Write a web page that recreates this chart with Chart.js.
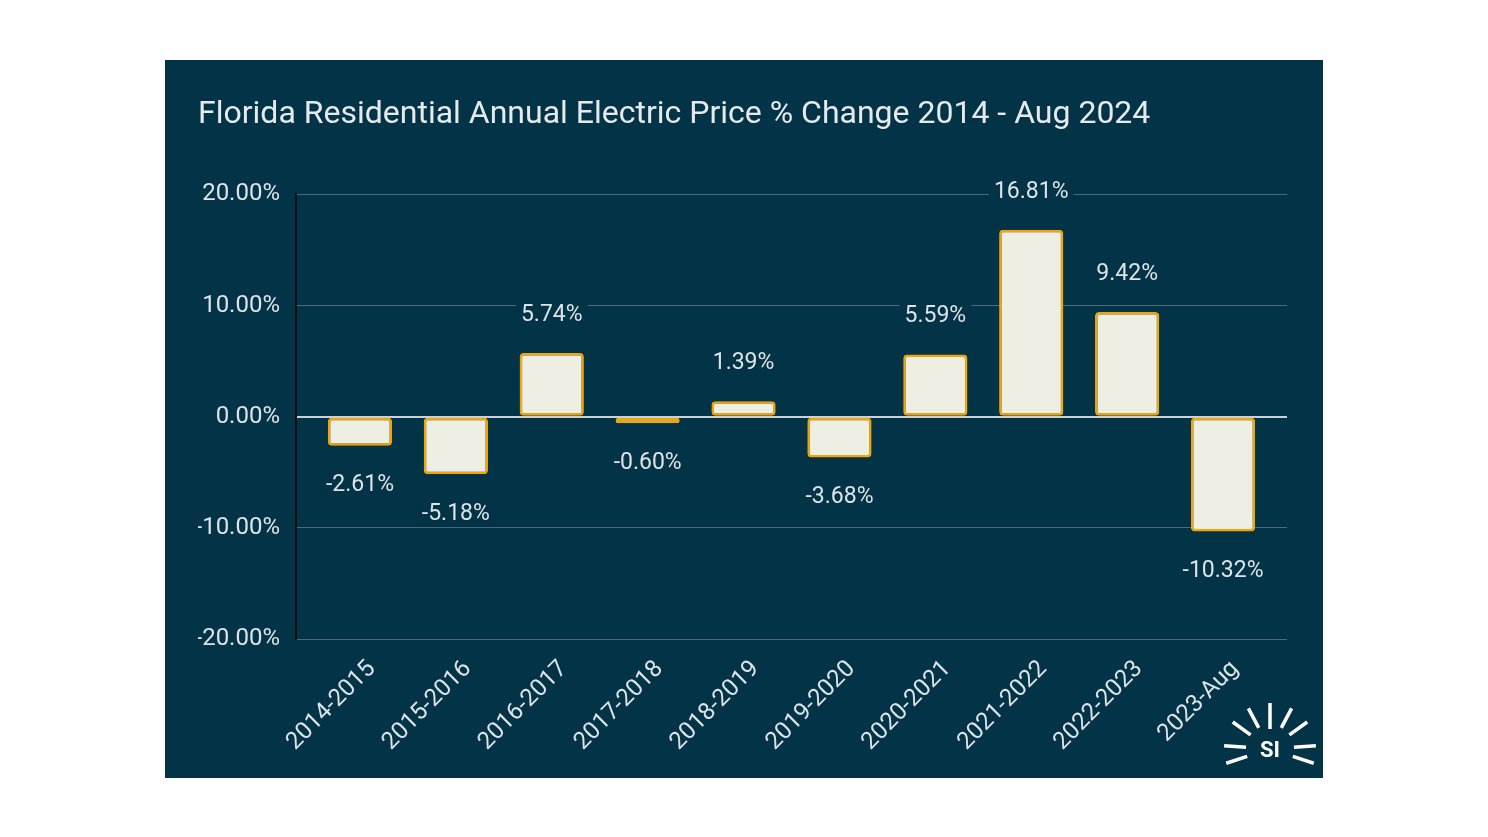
<!DOCTYPE html>
<html>
<head>
<meta charset="utf-8">
<script src="https://cdn.jsdelivr.net/npm/chart.js@4"></script>
<style>
  html, body { margin: 0; padding: 0; background: #ffffff; }
  #panel {
    position: absolute; left: 165px; top: 60px;
    width: 1158px; height: 718px; background: #033347;
  }
</style>
</head>
<body>
<div id="panel"><canvas id="chart"></canvas></div>
<script>
// data
const periods = ['2014-2015', '2015-2016', '2016-2017', '2017-2018', '2018-2019',
                 '2019-2020', '2020-2021', '2021-2022', '2022-2023', '2023-Aug'];
const pctChange = [-2.61, -5.18, 5.74, -0.60, 1.39, -3.68, 5.59, 16.81, 9.42, -10.32];
const yTicks = [-20, -10, 0, 10, 20];

const panelColor = '#033347';
const textColor = '#dde3e6';

// value labels outside the bar ends, with a panel-coloured backdrop
const valueLabels = {
  id: 'valueLabels',
  afterDatasetsDraw(chart) {
    const ctx = chart.ctx;
    const meta = chart.getDatasetMeta(0);
    ctx.save();
    ctx.font = '23px Roboto';
    ctx.textAlign = 'center';
    ctx.textBaseline = 'middle';
    meta.data.forEach((bar, i) => {
      const v = pctChange[i];
      const txt = v.toFixed(2) + '%';
      const y = v >= 0 ? bar.y - 38 : bar.y + 40;
      const w = ctx.measureText(txt).width;
      ctx.fillStyle = panelColor;
      ctx.fillRect(bar.x - w / 2 - 5, y - 12, w + 10, 24);
      ctx.fillStyle = textColor;
      ctx.fillText(txt, bar.x, y);
    });
    ctx.restore();
  }
};

// the category axis sits a little inside the grid on both sides
const insetX = {
  id: 'insetX',
  afterLayout(chart) {
    const x = chart.scales.x;
    x.left += 16;
    x.right -= 16;
    x.width = x.right - x.left;
    x.configure();
  }
};

// small "SI" sun logo in the bottom-right corner
const logo = {
  id: 'logo',
  afterDraw(chart) {
    const ctx = chart.ctx;
    const cx = chart.width - 53, cy = 689;
    ctx.save();
    ctx.strokeStyle = '#ffffff';
    ctx.lineWidth = 3.5;
    const rays = [-90, -62, -118, -36, -144, -4, -176, 18, 162];
    rays.forEach(a => {
      const r = a * Math.PI / 180;
      const r0 = a === -90 ? 20 : 24;
      ctx.beginPath();
      ctx.moveTo(cx + Math.cos(r) * r0, cy + Math.sin(r) * r0);
      ctx.lineTo(cx + Math.cos(r) * 46, cy + Math.sin(r) * 46);
      ctx.stroke();
    });
    ctx.fillStyle = '#ffffff';
    ctx.font = 'bold 22px Roboto';
    ctx.textAlign = 'center';
    ctx.textBaseline = 'middle';
    ctx.fillText('SI', cx, cy + 2);
    ctx.restore();
  }
};

new Chart(document.getElementById('chart'), {
  type: 'bar',
  data: {
    labels: periods,
    datasets: [{
      data: pctChange,
      backgroundColor: '#eeeee2',
      borderColor: '#f5a406',
      borderWidth: 2.5,
      borderSkipped: false,
      borderRadius: 4,
      barPercentage: 0.67,
      categoryPercentage: 1.0
    }]
  },
  options: {
    responsive: true,
    maintainAspectRatio: false,
    animation: false,
    layout: { padding: { left: 33, right: 36, top: 0, bottom: 0 } },
    plugins: {
      legend: { display: false },
      tooltip: { enabled: false },
      title: {
        display: true,
        text: 'Florida Residential Annual Electric Price % Change 2014 - Aug 2024',
        align: 'start',
        color: '#e6eaec',
        font: { family: 'Roboto', size: 32, weight: 'normal' },
        padding: { top: 36, bottom: 60 }
      }
    },
    scales: {
      y: {
        min: -20, max: 20,
        afterBuildTicks(axis) { axis.ticks = yTicks.map(v => ({ value: v })); },
        afterFit(axis) { axis.width = 98; },
        border: { display: true, color: '#0b0f12', width: 2 },
        grid: {
          color: ctx => ctx.tick && ctx.tick.value === 0 ? '#c9d2d6' : '#4e6a78',
          lineWidth: ctx => ctx.tick && ctx.tick.value === 0 ? 2 : 1,
          drawTicks: false
        },
        ticks: {
          color: textColor,
          font: { family: 'Roboto', size: 24 },
          padding: 16,
          callback: v => v.toFixed(2) + '%'
        }
      },
      x: {
        afterFit(axis) { axis.height = 139; },
        grid: { display: false },
        border: { display: false },
        ticks: {
          color: textColor,
          font: { family: 'Roboto', size: 24 },
          minRotation: 45, maxRotation: 45,
          labelOffset: 12,
          padding: 8
        }
      }
    }
  },
  plugins: [insetX, valueLabels, logo]
});
</script>
</body>
</html>
